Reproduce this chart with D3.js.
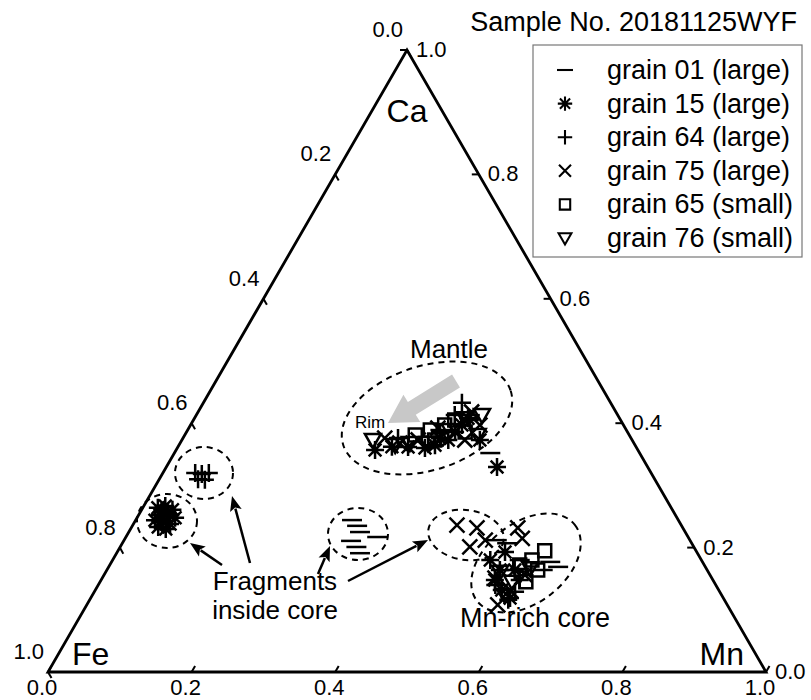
<!DOCTYPE html>
<html><head><meta charset="utf-8">
<script src="https://cdn.jsdelivr.net/npm/d3@7"></script>
<style>html,body{margin:0;padding:0;background:#fff;} svg{display:block;font-family:"Liberation Sans",Arial,sans-serif;}</style>
</head><body><svg id="c" width="811" height="700"></svg>
<script>
// ---------- data ----------
const tickValues = [0, 0.2, 0.4, 0.6, 0.8, 1.0];
const tickLabels = ["0.0", "0.2", "0.4", "0.6", "0.8", "1.0"];
const vertexLabels = ["Fe", "Mn", "Ca"];
const title = "Sample No. 20181125WYF";
const grainNames = ["grain 01 (large)", "grain 15 (large)", "grain 64 (large)", "grain 75 (large)", "grain 65 (small)", "grain 76 (small)"];
const grainSymbols = ["dash", "asterisk", "plus", "cross", "square", "triangle"];

// each point: [Fe, Mn, Ca]
const grain01 = [
  [0.454,0.301,0.244],[0.452,0.313,0.235],[0.453,0.322,0.225],[0.433,0.350,0.217],
  [0.473,0.317,0.211],[0.470,0.329,0.201],[0.470,0.339,0.191],
  [0.208,0.440,0.352],[0.259,0.352,0.389],[0.206,0.381,0.413],
  [0.269,0.519,0.212],[0.257,0.536,0.207],[0.212,0.611,0.177],[0.205,0.626,0.169],
  [0.229,0.607,0.164],[0.253,0.567,0.180]
];
const grain15 = [
  [0.715,0.021,0.264],[0.704,0.030,0.267],[0.697,0.043,0.261],[0.718,0.030,0.252],
  [0.706,0.040,0.254],[0.699,0.053,0.248],[0.729,0.027,0.244],[0.719,0.040,0.241],
  [0.711,0.051,0.238],[0.730,0.037,0.233],[0.721,0.049,0.230],[0.713,0.030,0.257],
  [0.366,0.277,0.357],[0.340,0.298,0.362],[0.318,0.321,0.362],[0.295,0.345,0.360],
  [0.279,0.357,0.365],[0.256,0.371,0.373],[0.240,0.374,0.386],[0.225,0.378,0.397],
  [0.211,0.381,0.408],[0.212,0.415,0.373],[0.210,0.461,0.330],[0.266,0.358,0.376],
  [0.304,0.549,0.148],[0.302,0.566,0.132],[0.297,0.584,0.119],[0.289,0.548,0.164],
  [0.294,0.526,0.180],[0.268,0.568,0.164],[0.267,0.540,0.193]
];
const grain64 = [
  [0.635,0.045,0.320],[0.626,0.055,0.318],[0.616,0.064,0.320],[0.636,0.054,0.310],
  [0.627,0.064,0.309],
  [0.207,0.360,0.433],[0.227,0.360,0.413],[0.210,0.385,0.405],[0.324,0.299,0.376],
  [0.261,0.353,0.386],
  [0.301,0.583,0.116],[0.307,0.553,0.140],[0.285,0.586,0.129],[0.269,0.583,0.148]
];
const grain75 = [
  [0.312,0.451,0.236],[0.287,0.482,0.232],[0.312,0.487,0.201],[0.230,0.539,0.232],
  [0.232,0.553,0.215],[0.285,0.503,0.212],
  [0.343,0.281,0.376],[0.326,0.306,0.368],[0.298,0.329,0.373],[0.261,0.347,0.392],
  [0.201,0.381,0.418],[0.200,0.403,0.397],[0.233,0.394,0.373],
  [0.302,0.547,0.151],[0.291,0.578,0.132],[0.258,0.586,0.156],[0.320,0.573,0.108]
];
const grain65 = [
  [0.298,0.321,0.381],[0.273,0.338,0.389],[0.249,0.354,0.397],[0.231,0.364,0.405],
  [0.275,0.352,0.373],[0.226,0.388,0.386],
  [0.211,0.595,0.195],[0.236,0.584,0.180],[0.257,0.571,0.172],[0.236,0.600,0.164],
  [0.262,0.593,0.145]
];
const grain76 = [
  [0.361,0.266,0.373],[0.334,0.301,0.365],[0.312,0.320,0.368],[0.287,0.345,0.368],
  [0.246,0.365,0.389],[0.215,0.377,0.408],[0.211,0.408,0.381],[0.189,0.398,0.413],
  [0.290,0.549,0.161],[0.281,0.574,0.145],[0.302,0.575,0.124],[0.265,0.579,0.156],
  [0.245,0.588,0.167]
];
const grainData = [grain01, grain15, grain64, grain75, grain65, grain76];

// ---------- drawing ----------
const svg = d3.select("#c");
const xs = d3.scaleLinear().domain([0, 1]).range([48, 766]);
const ys = d3.scaleLinear().domain([0, 1]).range([672, 50]);
function proj(d) {
  const s = d[0] + d[1] + d[2];
  const mn = d[1] / s, ca = d[2] / s;
  return [xs(mn + ca / 2), ys(ca)];
}

// triangle
const verts = [proj([1,0,0]), proj([0,1,0]), proj([0,0,1])];
svg.append("path")
  .attr("d", d3.line()(verts) + "Z")
  .attr("fill", "none").attr("stroke", "#000").attr("stroke-width", 2.8)
  .attr("stroke-linejoin", "miter");

const tickLen = 7;
const tg = svg.append("g").attr("stroke", "#000").attr("stroke-width", 2);
const lg = svg.append("g").attr("font-size", 22).attr("fill", "#000");
tickValues.forEach((v, i) => {
  // bottom axis (Mn)
  let p = proj([1 - v, v, 0]);
  tg.append("line").attr("x1", p[0]).attr("y1", p[1])
    .attr("x2", p[0] + 0.5 * tickLen).attr("y2", p[1] - 0.866 * tickLen);
  lg.append("text").attr("x", p[0] - 6).attr("y", 695).attr("text-anchor", "middle").text(tickLabels[i]);
  // left axis (Fe)
  p = proj([v, 0, 1 - v]);
  tg.append("line").attr("x1", p[0]).attr("y1", p[1])
    .attr("x2", p[0] + 0.5 * tickLen).attr("y2", p[1] + 0.866 * tickLen);
  lg.append("text").attr("x", p[0] - 4).attr("y", p[1] - 13).attr("text-anchor", "end").text(tickLabels[i]);
  // right axis (Ca)
  p = proj([0, 1 - v, v]);
  tg.append("line").attr("x1", p[0]).attr("y1", p[1])
    .attr("x2", p[0] - tickLen).attr("y2", p[1]);
  lg.append("text").attr("x", p[0] + 9).attr("y", p[1] + 7).attr("text-anchor", "start").text(tickLabels[i]);
});

// vertex labels
const vl = svg.append("g").attr("font-size", 32);
vl.append("text").attr("x", verts[0][0] + 24).attr("y", verts[0][1] - 7).text(vertexLabels[0]);
vl.append("text").attr("x", verts[1][0] - 22).attr("y", verts[1][1] - 7).attr("text-anchor", "end").text(vertexLabels[1]);
vl.append("text").attr("x", verts[2][0]).attr("y", verts[2][1] + 72).attr("text-anchor", "middle").text(vertexLabels[2]);

// symbols
function symPath(t) {
  switch (t) {
    case "dash": return "M-10,0H10";
    case "asterisk": {
      const r = 9, q = r * 0.7071;
      return `M${-r},0H${r}M0,${-r}V${r}M${-q},${-q}L${q},${q}M${-q},${q}L${q},${-q}`;
    }
    case "plus": return "M-9,0H9M0,-9V9";
    case "cross": return "M-7.5,-7.5L7.5,7.5M-7.5,7.5L7.5,-7.5";
    case "square": return "M-6.5,-6.5H6.5V6.5H-6.5Z";
    case "triangle": return "M-8,-6L8,-6L0,8Z";
  }
}

// annotations (ellipses)
const ellipses = [
  {cx:167, cy:521, rx:30, ry:27, rot:0},
  {cx:204, cy:473, rx:29, ry:26, rot:0},
  {cx:358, cy:534, rx:30, ry:26, rot:0},
  {cx:427, cy:418, rx:88, ry:52, rot:-18},
  {cx:466, cy:535, rx:38, ry:25, rot:8},
  {cx:526, cy:563, rx:62, ry:40, rot:-38}
];
svg.append("g").selectAll("ellipse").data(ellipses).join("ellipse")
  .attr("cx", 0).attr("cy", 0).attr("rx", d => d.rx).attr("ry", d => d.ry)
  .attr("transform", d => `translate(${d.cx},${d.cy}) rotate(${d.rot})`)
  .attr("fill", "none").attr("stroke", "#000").attr("stroke-width", 2)
  .attr("stroke-dasharray", "6,5");

// gray arrow
(function () {
  const S = [456, 381], T = [388, 423];
  const dx = T[0] - S[0], dy = T[1] - S[1], L = Math.hypot(dx, dy);
  const u = [dx / L, dy / L], n = [-u[1], u[0]];
  const w = 7.5, hl = 28, hw = 16;
  const H = [T[0] - u[0] * hl, T[1] - u[1] * hl];
  const pts = [
    [S[0] + n[0] * w, S[1] + n[1] * w], [H[0] + n[0] * w, H[1] + n[1] * w],
    [H[0] + n[0] * hw, H[1] + n[1] * hw], T,
    [H[0] - n[0] * hw, H[1] - n[1] * hw], [H[0] - n[0] * w, H[1] - n[1] * w],
    [S[0] - n[0] * w, S[1] - n[1] * w]
  ];
  svg.append("path").attr("d", d3.line()(pts) + "Z").attr("fill", "#c8c8c8");
})();

// data points
const pg = svg.append("g");
grainData.forEach((arr, gi) => {
  pg.append("g").selectAll("path").data(arr).join("path")
    .attr("d", symPath(grainSymbols[gi]))
    .attr("transform", d => { const p = proj(d); return `translate(${p[0]},${p[1]})`; })
    .attr("fill", "none").attr("stroke", "#000").attr("stroke-width", 2.5);
});

// black arrows
const arrows = [
  [[222, 565], [190, 543]],
  [[250, 563], [232, 496]],
  [[318, 574], [330, 546]],
  [[348, 581], [428, 540]]
];
arrows.forEach(([S, T]) => {
  const dx = T[0] - S[0], dy = T[1] - S[1], L = Math.hypot(dx, dy);
  const u = [dx / L, dy / L], n = [-u[1], u[0]];
  const hl = 15, hw = 6;
  const H = [T[0] - u[0] * hl, T[1] - u[1] * hl];
  svg.append("line").attr("x1", S[0]).attr("y1", S[1]).attr("x2", H[0] + u[0] * 2).attr("y2", H[1] + u[1] * 2)
    .attr("stroke", "#000").attr("stroke-width", 2.5);
  svg.append("path").attr("d", d3.line()([T, [H[0] + n[0] * hw, H[1] + n[1] * hw], [H[0] + u[0]*3, H[1] + u[1]*3], [H[0] - n[0] * hw, H[1] - n[1] * hw]]) + "Z")
    .attr("fill", "#000");
});

// annotation texts
svg.append("text").attr("x", 410).attr("y", 358).attr("font-size", 26).text("Mantle");
svg.append("text").attr("x", 355).attr("y", 428).attr("font-size", 17).text("Rim");
svg.append("text").attr("x", 275).attr("y", 590).attr("font-size", 26).attr("text-anchor", "middle").text("Fragments");
svg.append("text").attr("x", 275).attr("y", 619).attr("font-size", 26).attr("text-anchor", "middle").text("inside core");
svg.append("text").attr("x", 535).attr("y", 627).attr("font-size", 27).attr("text-anchor", "middle").text("Mn-rich core");

// title
svg.append("text").attr("x", 797).attr("y", 31).attr("font-size", 27).attr("text-anchor", "end").text(title);

// legend
const lgX = 533, lgY = 45, lgW = 269, lgH = 212;
svg.append("rect").attr("x", lgX).attr("y", lgY).attr("width", lgW).attr("height", lgH)
  .attr("fill", "#fff").attr("stroke", "#777").attr("stroke-width", 1.2);
const rowY = d3.scalePoint().domain(grainNames).range([70, 238]);
const leg = svg.append("g");
grainNames.forEach((name, i) => {
  const y = rowY(name);
  leg.append("path").attr("d", symPath(grainSymbols[i])).attr("transform", `translate(565,${y}) scale(0.8)`)
    .attr("fill", "none").attr("stroke", "#000").attr("stroke-width", 2.6);
  leg.append("text").attr("x", 607).attr("y", y + 9).attr("font-size", 27).text(name);
});
</script></body></html>
